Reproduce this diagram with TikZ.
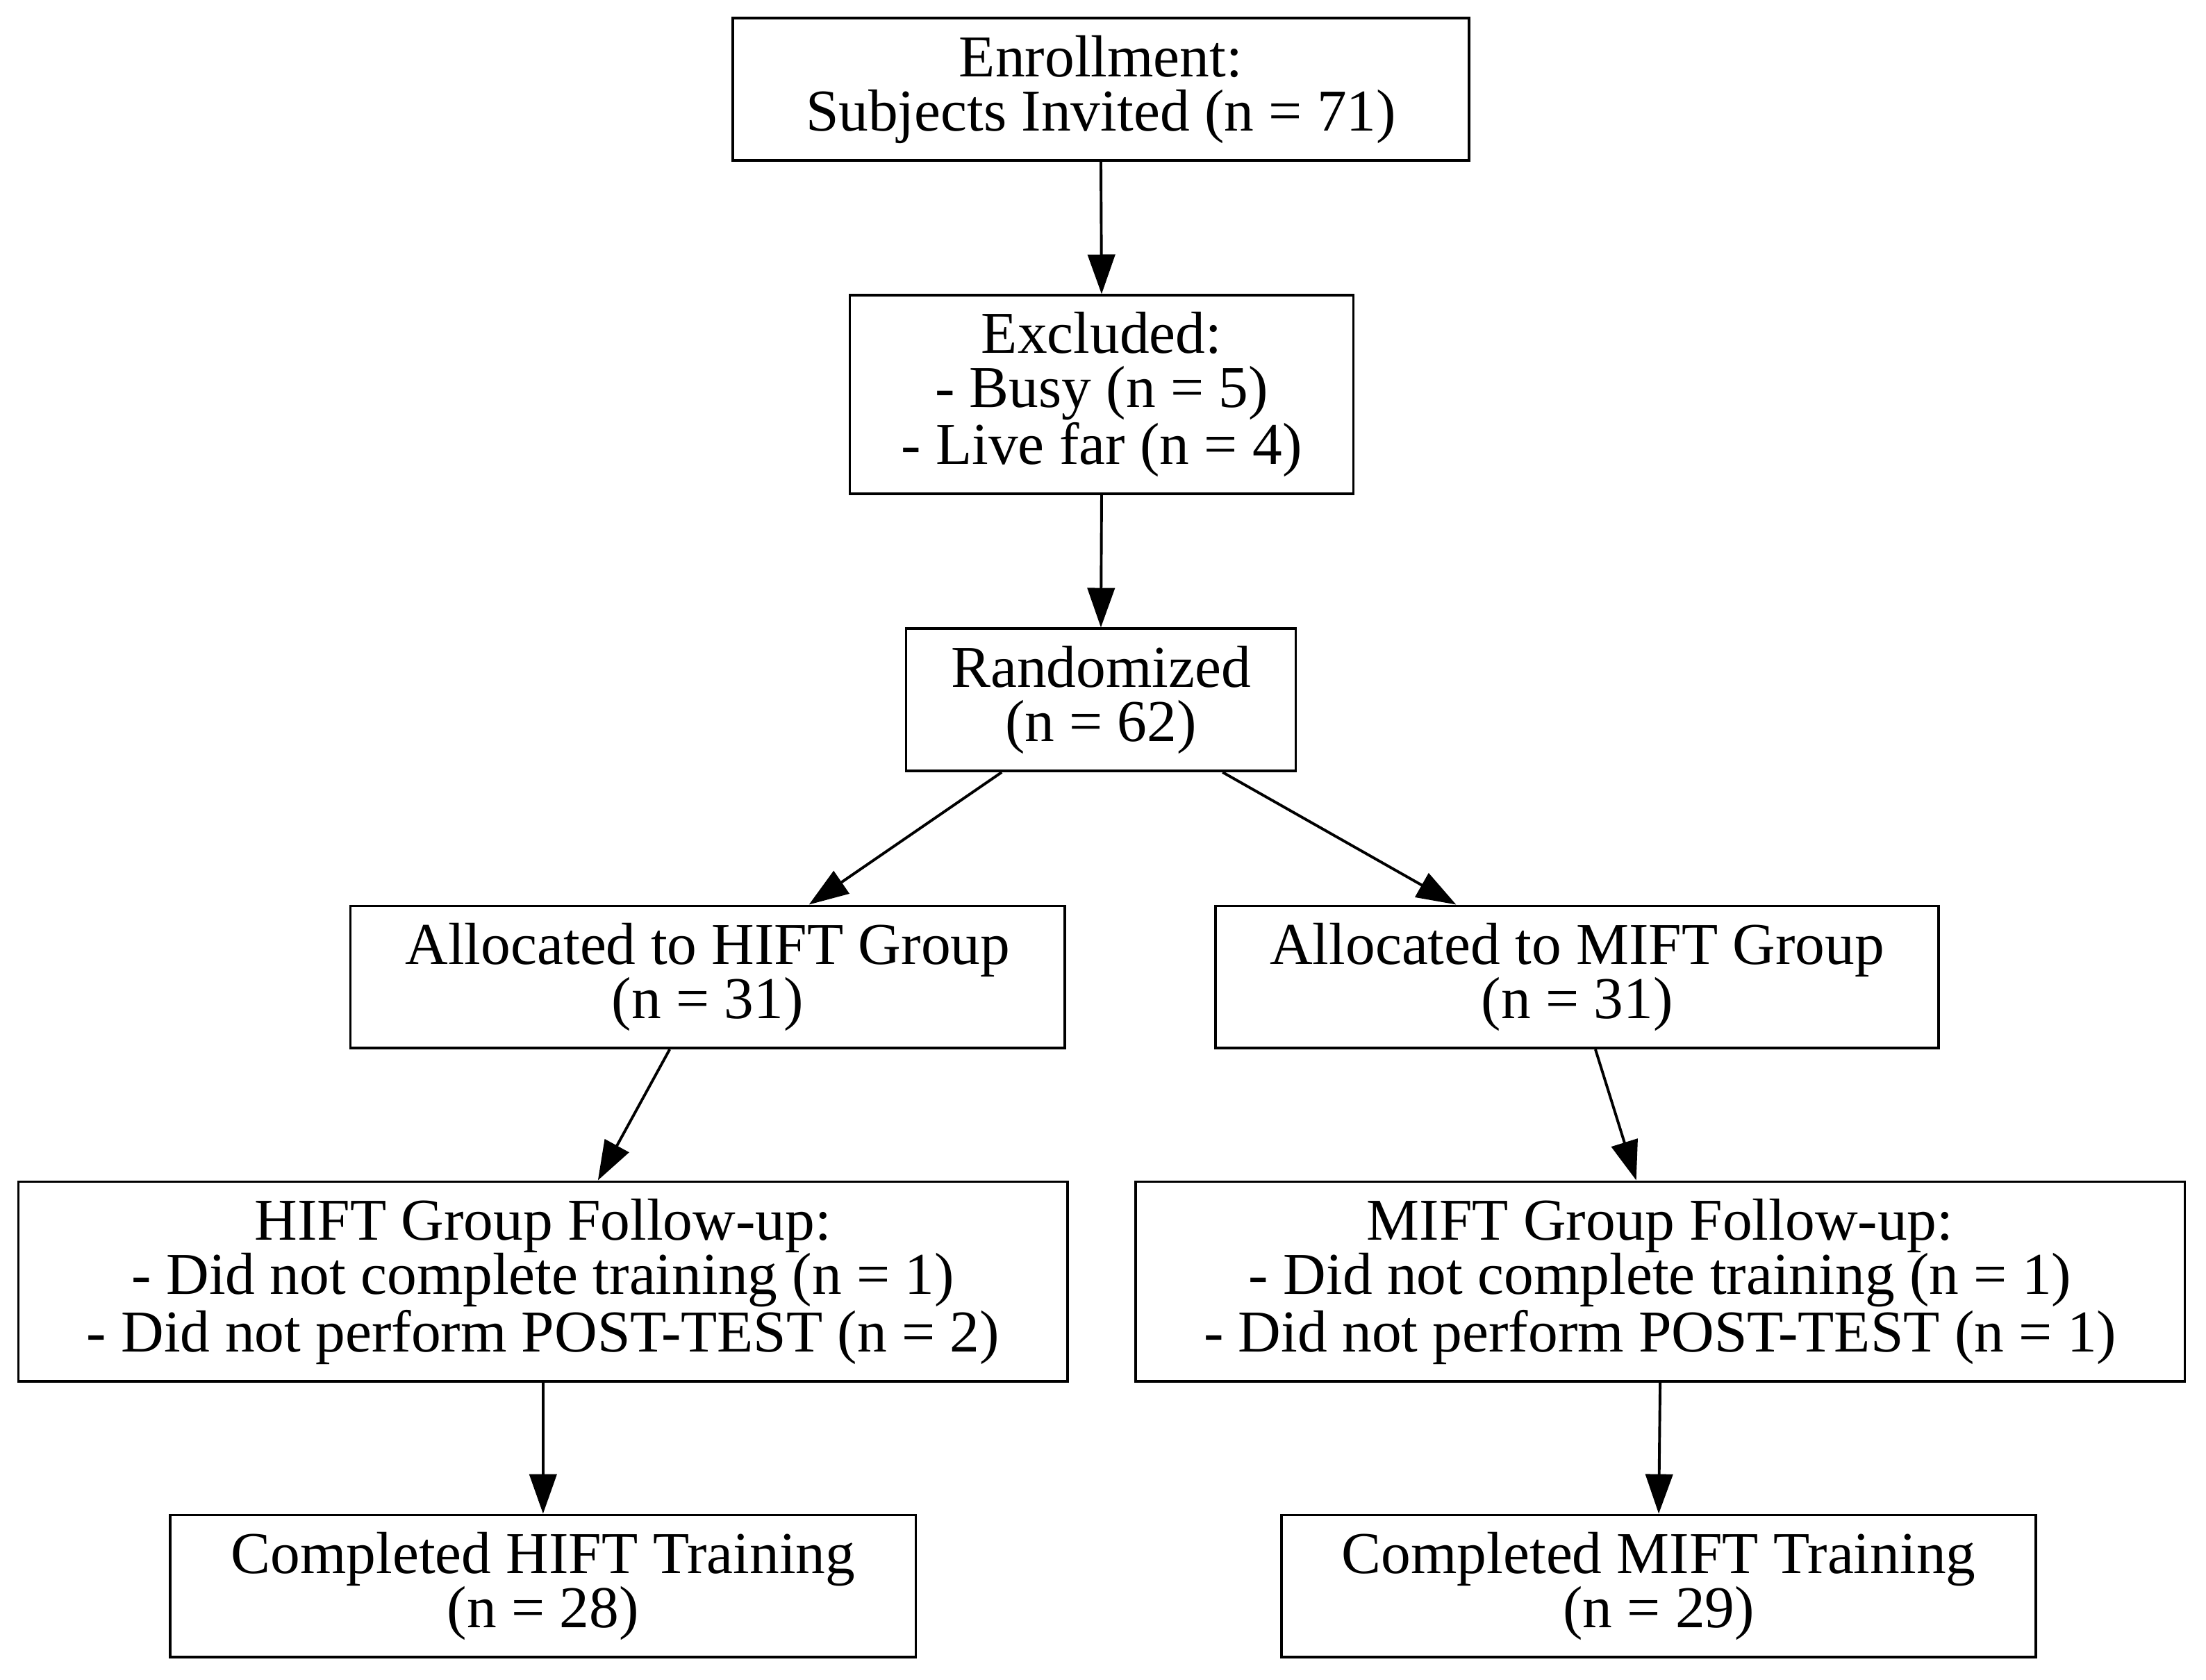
\documentclass[tikz,border=0pt]{standalone}
\usepackage{fontspec}
\setmainfont{Liberation Serif}
\usetikzlibrary{arrows.meta,calc}
\begin{document}
\begin{tikzpicture}[x=0.02cm,y=-0.02cm,
  box/.style={draw,line width=1.1pt,inner sep=0pt,align=center,font=\fontsize{24}{22}\selectfont},
  arr/.style={line width=1.1pt,-{Triangle[length=16pt,width=11pt]}}]
\useasboundingbox (0,0) rectangle (1568,1194);
\node[box,minimum width=523\pgflinewidth*0+10.46cm,minimum height=2.02cm] (a) at (782.5,63.5) {Enrollment:\\Subjects Invited (n = 71)};
\node[box,minimum width=7.16cm,minimum height=2.82cm] (b) at (783,280.5) {Excluded:\\- Busy (n = 5)\\- Live far (n = 4)};
\node[box,minimum width=5.54cm,minimum height=2.02cm] (c) at (782.5,497.5) {Randomized\\(n = 62)};
\node[box,minimum width=10.16cm,minimum height=2.02cm] (d) at (503,694.5) {Allocated to HIFT Group\\(n = 31)};
\node[box,minimum width=10.28cm,minimum height=2.02cm] (e) at (1121,694.5) {Allocated to MIFT Group\\(n = 31)};
\node[box,minimum width=14.92cm,minimum height=2.84cm] (f) at (386,911) {HIFT Group Follow-up:\\- Did not complete training (n = 1)\\- Did not perform POST-TEST (n = 2)};
\node[box,minimum width=14.92cm,minimum height=2.84cm] (g) at (1180,911) {MIFT Group Follow-up:\\- Did not complete training (n = 1)\\- Did not perform POST-TEST (n = 1)};
\node[box,minimum width=10.6cm,minimum height=2.02cm] (h) at (386,1127.5) {Completed HIFT Training\\(n = 28)};
\node[box,minimum width=10.72cm,minimum height=2.02cm] (i) at (1179,1127.5) {Completed MIFT Training\\(n = 29)};
\draw[arr] (a.south) -- (b.north);
\draw[arr] (b.south) -- (c.north);
\draw[arr] ($(c.south)+(-70.5,0)$) -- ($(d.north)+(72,0)$);
\draw[arr] ($(c.south)+(86.5,0)$) -- ($(e.north)+(-86,0)$);
\draw[arr] ($(d.south)+(-27,0)$) -- ($(f.north)+(39,0)$);
\draw[arr] ($(e.south)+(13,0)$) -- ($(g.north)+(-17,0)$);
\draw[arr] (f.south) -- (h.north);
\draw[arr] (g.south) -- (i.north);
\end{tikzpicture}
\end{document}
